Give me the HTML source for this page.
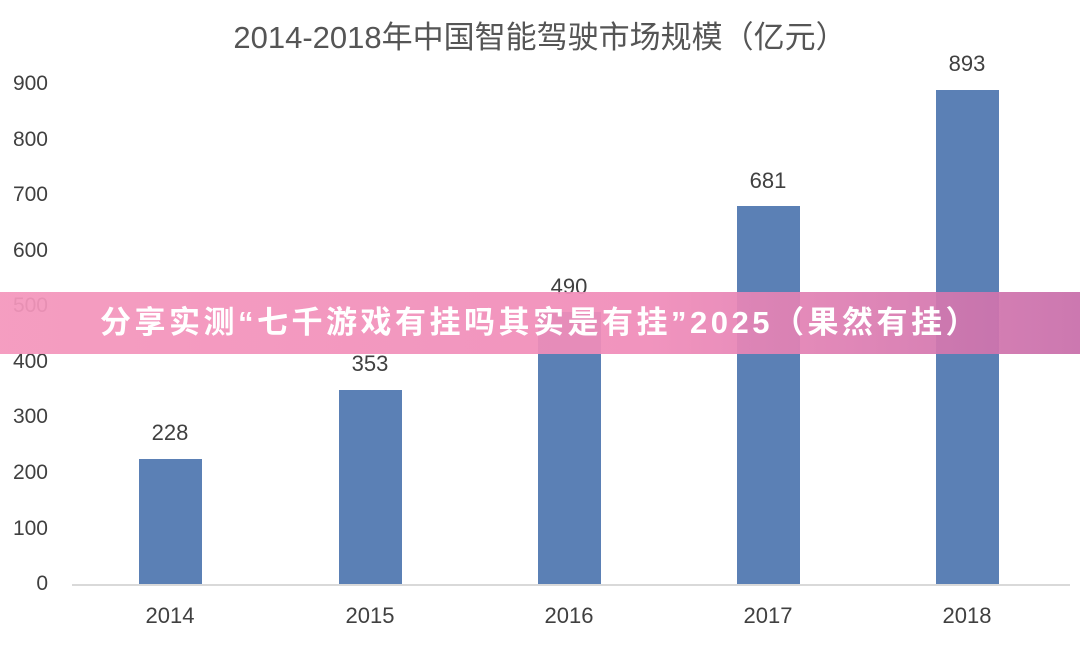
<!DOCTYPE html>
<html><head><meta charset="utf-8"><style>
body{margin:0;width:1080px;height:647px;background:#fff;overflow:hidden;position:relative;font-family:"Liberation Sans","Noto Sans CJK SC",sans-serif}
.t{position:absolute;color:#404040}
.yl{position:absolute;left:0;width:48px;text-align:right;font-size:21px;color:#404040}
.bar{position:absolute;background:#5b80b5;width:63px}
.v{position:absolute;width:100px;text-align:center;font-size:22px;color:#404040}
.x{position:absolute;width:100px;text-align:center;font-size:22px;color:#404040;top:603px}
.banner{position:absolute;left:0;top:292px;width:1080px;height:62px;background:linear-gradient(90deg,rgba(244,150,188,0.93),rgba(240,140,185,0.93) 60%,rgba(200,110,170,0.93));}
.bt{position:absolute;left:0;width:1080px;top:292px;height:62px;line-height:62px;text-align:center;color:#fff;font-weight:bold;font-size:31px;letter-spacing:3.5px;font-family:"Liberation Sans","Noto Sans CJK SC",sans-serif}
</style></head><body>
<div class="t" style="left:0;width:1080px;text-align:center;top:12px;font-size:31px;color:#555">2014-2018年中国智能驾驶市场规模（亿元）</div>
<div class="yl" style="top:72px">900</div>
<div class="yl" style="top:128px">800</div>
<div class="yl" style="top:183px">700</div>
<div class="yl" style="top:239px">600</div>
<div class="yl" style="top:294px">500</div>
<div class="yl" style="top:350px">400</div>
<div class="yl" style="top:405px">300</div>
<div class="yl" style="top:461px">200</div>
<div class="yl" style="top:517px">100</div>
<div class="yl" style="top:572px">0</div>
<div style="position:absolute;left:72px;top:584px;width:998px;height:2px;background:#d9d9d9"></div>
<div class="bar" style="left:139px;top:459px;height:125px"></div>
<div class="bar" style="left:339px;top:390px;height:194px"></div>
<div class="bar" style="left:538px;top:312px;height:272px"></div>
<div class="bar" style="left:737px;top:206px;height:378px"></div>
<div class="bar" style="left:936px;top:90px;height:494px"></div>
<div class="v" style="left:120px;top:420px">228</div>
<div class="v" style="left:320px;top:351px">353</div>
<div class="v" style="left:519px;top:274px">490</div>
<div class="v" style="left:718px;top:168px">681</div>
<div class="v" style="left:917px;top:51px">893</div>
<div class="x" style="left:120px">2014</div>
<div class="x" style="left:320px">2015</div>
<div class="x" style="left:519px">2016</div>
<div class="x" style="left:718px">2017</div>
<div class="x" style="left:917px">2018</div>
<div class="banner"></div>
<div class="bt">分享实测“七千游戏有挂吗其实是有挂”2025（果然有挂）</div>
</body></html>
